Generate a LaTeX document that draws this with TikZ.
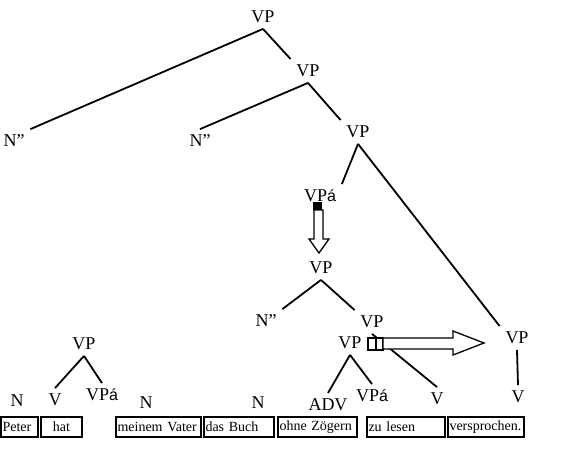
\documentclass[tikz,border=0pt]{standalone}
\usepackage{fontspec}
\setmainfont{Liberation Serif}
\setsansfont{Liberation Sans}

\newcommand{\VPa}{VP{\sffamily\fontsize{16}{18}\selectfont á}}

\begin{document}
\begin{tikzpicture}[x=1pt, y=-1pt, line width=1.8pt,
    lbl/.style={inner sep=5pt, font=\fontsize{18}{21}\selectfont},
    word/.style={draw, line width=1.3pt, inner xsep=1.5pt, inner ysep=0pt,
        minimum height=20pt, align=left, font=\fontsize{14}{16}\selectfont},
    hollow/.style={draw, fill=white, line width=1.3pt}]
    \useasboundingbox (0,0) rectangle (565,462);

    % Upper tree
    \node[lbl] (vp1) at (263,17) {VP};
    \node[lbl] (n1) at (14,141) {N”};
    \node[lbl] (vp2) at (308,71) {VP};
    \node[lbl] (n2) at (200,141) {N”};
    \node[lbl] (vp3) at (358,132) {VP};
    \node[lbl] (vpa1) at (320,196) {\VPa};
    \node[lbl] (vpr) at (517,338) {VP};
    \node[lbl] (vr) at (518,397) {V};

    \draw (vp1.south) -- (n1.north east);
    \draw (vp1.south) -- (vp2.north west);
    \draw (vp2.south) -- (n2.north);
    \draw (vp2.south) -- (vp3.north west);
    \draw (vp3.south) -- (vpa1.north east);
    \draw (vp3.south) -- (vpr.north west);
    \draw (vpr.south) -- (vr.north);

    % Middle tree
    \node[lbl] (vp4) at (321,268) {VP};
    \node[lbl] (n3) at (266,321) {N”};
    \node[lbl] (vp5) at (372,322) {VP};
    \node[lbl] (vp6) at (350,343) {VP};
    \node[lbl] (adv) at (328,405) {ADV};
    \node[lbl] (vpa3) at (372,396) {\VPa};
    \node[lbl] (vz) at (437,399) {V};

    \draw (vp4.south) -- (n3.north east);
    \draw (vp4.south) -- (vp5.north west);
    \draw (vp5.south) -- (vz.north);
    \draw (vp6.south) -- (adv.north);
    \draw (vp6.south) -- (vpa3.north);

    % Lower left tree
    \node[lbl] (vpl) at (84,344) {VP};
    \node[lbl] (nl) at (17,401) {N};
    \node[lbl] (vl) at (55,400) {V};
    \node[lbl] (vpa2) at (102,395) {\VPa};
    \node[lbl] (nm) at (146,403) {N};
    \node[lbl] (nd) at (258,403) {N};

    \draw (vpl.south) -- (vl.north);
    \draw (vpl.south) -- (vpa2.north);

    % Words
    \node[word, text width=34pt] (peter) at (19.5,427) {Peter};
    \node[word, text width=38pt, align=center] (hat) at (61.5,427) {hat};
    \node[word, text width=82pt] (meinem) at (158.5,427) {meinem Vater};
    \node[word, text width=67pt] (buch) at (239,427) {das Buch};
    \node[word, text width=76pt] (ohne) at (317.5,427) {ohne Zögern};
    \node[word, text width=75pt] (zu) at (406,427) {zu lesen};
    \node[word, text width=73pt] (vers) at (486,427) {versprochen.};

    % Hollow arrows
    \fill (313,202) rectangle (322,210);
    \draw[hollow] (314,210) -- (314,239) -- (309,239) -- (319,253)
        -- (329,239) -- (323,239) -- (323,210) -- cycle;
    \draw[hollow] (368,338) rectangle (376,350);
    \draw[hollow] (376,338) rectangle (383,350);
    \draw[hollow] (383,338) -- (453,338) -- (453,331) -- (484,343)
        -- (453,355) -- (453,349) -- (383,349) -- cycle;
\end{tikzpicture}
\end{document}
